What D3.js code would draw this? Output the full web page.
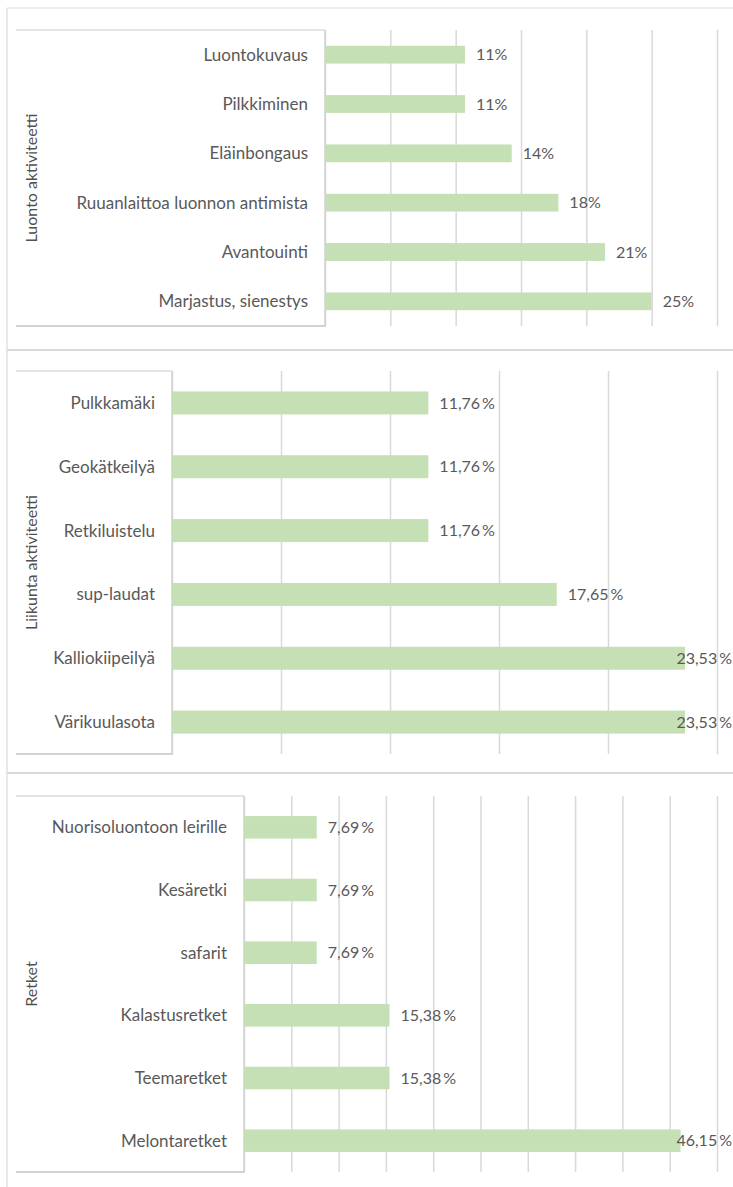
<!DOCTYPE html>
<html>
<head>
<meta charset="utf-8">
<script src="https://cdn.jsdelivr.net/npm/d3@7"></script>
<style>
  body { margin: 0; background: #fff; }
  text { font-family: Lato, "Open Sans", sans-serif; fill: #595959; }
</style>
</head>
<body>
<div id="chart"></div>
<script>
// values in percent, listed top row first
var luontoCats = ["Luontokuvaus", "Pilkkiminen", "Eläinbongaus", "Ruuanlaittoa luonnon antimista", "Avantouinti", "Marjastus, sienestys"];
var luontoVals = [10.71, 10.71, 14.29, 17.86, 21.43, 25];

var liikuntaCats = ["Pulkkamäki", "Geokätkeilyä", "Retkiluistelu", "sup-laudat", "Kalliokiipeilyä", "Värikuulasota"];
var liikuntaVals = [11.76, 11.76, 11.76, 17.65, 23.53, 23.53];

var retketCats = ["Nuorisoluontoon leirille", "Kesäretki", "safarit", "Kalastusretket", "Teemaretket", "Melontaretket"];
var retketVals = [7.69, 7.69, 7.69, 15.38, 15.38, 46.15];

var titles = ["Luonto aktiviteetti", "Liikunta aktiviteetti", "Retket"];
var axisMax = [30, 25, 50];

var width = 733, height = 1187;

var fi = d3.formatLocale({decimal: ",", thousands: "\u00a0", grouping: [3], currency: ["", " €"], percent: "\u2009%"});
var fmtWhole = function(v){ return Math.round(v) + "%"; };
var fmtDec = function(v){ return fi.format(".2%")(v / 100); };

var panels = [
    {title: titles[0], cats: luontoCats, vals: luontoVals, max: axisMax[0], fmt: fmtWhole,
     frameTop: 8, top: 30, bottom: 326, left: 325},
    {title: titles[1], cats: liikuntaCats, vals: liikuntaVals, max: axisMax[1], fmt: fmtDec,
     frameTop: 350, top: 371, bottom: 754, left: 172},
    {title: titles[2], cats: retketCats, vals: retketVals, max: axisMax[2], fmt: fmtDec,
     frameTop: 773, top: 796, bottom: 1172, left: 244}
];
var plotRight = 717, boxLeft = 16;

var svg = d3.select("#chart").append("svg")
    .attr("width", width)
    .attr("height", height);

svg.append("rect").attr("width", width).attr("height", height).attr("fill", "#fff");

// outer frame: left edge plus a top rule per panel
svg.append("line")
    .attr("x1", 7).attr("x2", 7).attr("y1", 8).attr("y2", height)
    .attr("stroke", "#e2e2e2").attr("stroke-width", 1.5);

panels.forEach(function(p, i){
    svg.append("line")
        .attr("x1", 7).attr("x2", width).attr("y1", p.frameTop).attr("y2", p.frameTop)
        .attr("stroke", i == 0 ? "#e8e8e8" : "#dadada")
        .attr("stroke-width", i == 0 ? 1.5 : 2);
});

panels.forEach(function(p){
    var g = svg.append("g");

    var x = d3.scaleLinear()
        .domain([0, p.max])
        .range([p.left, plotRight]);

    var y = d3.scaleBand()
        .domain(p.cats)
        .range([p.top, p.bottom])
        .paddingInner(0.64)
        .paddingOuter(0.32);

    // vertical gridlines every 5 %
    var grid = g.append("g")
        .attr("transform", "translate(0," + p.bottom + ")")
        .call(d3.axisBottom(x)
            .tickValues(d3.range(0, p.max + 0.1, 5))
            .tickSize(-(p.bottom - p.top))
            .tickFormat(""));
    grid.select(".domain").remove();
    grid.selectAll(".tick line")
        .attr("stroke", "#d9d9d9")
        .attr("stroke-width", 1.5);

    // label box edges (top, right shadow, bottom shadow)
    g.append("line")
        .attr("x1", boxLeft).attr("x2", p.left).attr("y1", p.top).attr("y2", p.top)
        .attr("stroke", "#dcdcdc").attr("stroke-width", 1.5);
    g.append("line")
        .attr("x1", boxLeft).attr("x2", p.left + 1).attr("y1", p.bottom).attr("y2", p.bottom)
        .attr("stroke", "#d2d2d2").attr("stroke-width", 2);
    g.append("line")
        .attr("x1", p.left).attr("x2", p.left).attr("y1", p.top).attr("y2", p.bottom)
        .attr("stroke", "#d2d2d2").attr("stroke-width", 1.5);

    var rows = p.cats.map(function(c, i){ return {cat: c, val: p.vals[i]}; });

    g.selectAll("rect.bar")
        .data(rows)
        .enter().append("rect")
        .attr("class", "bar")
        .attr("x", x(0))
        .attr("y", d => y(d.cat))
        .attr("width", d => x(d.val) - x(0))
        .attr("height", y.bandwidth())
        .attr("fill", "#c5e0b4");

    g.selectAll("text.cat")
        .data(rows)
        .enter().append("text")
        .attr("class", "cat")
        .attr("x", p.left - 17)
        .attr("y", d => y(d.cat) + y.bandwidth() / 2)
        .attr("dy", ".35em")
        .attr("text-anchor", "end")
        .attr("font-size", 17)
        .text(d => d.cat);

    // value labels, pushed back inside when they would run off the edge
    g.selectAll("text.val")
        .data(rows)
        .enter().append("text")
        .attr("class", "val")
        .attr("y", d => y(d.cat) + y.bandwidth() / 2)
        .attr("dy", ".35em")
        .attr("font-size", 16)
        .text(d => p.fmt(d.val))
        .attr("x", function(d){
            var w = this.getComputedTextLength();
            return Math.min(x(d.val) + 11, width - 1 - w);
        });

    g.append("text")
        .attr("transform", "translate(37," + (p.top + p.bottom) / 2 + ") rotate(-90)")
        .attr("text-anchor", "middle")
        .attr("font-size", 16)
        .style("fill", "#505050")
        .text(p.title);
});
</script>
</body>
</html>
